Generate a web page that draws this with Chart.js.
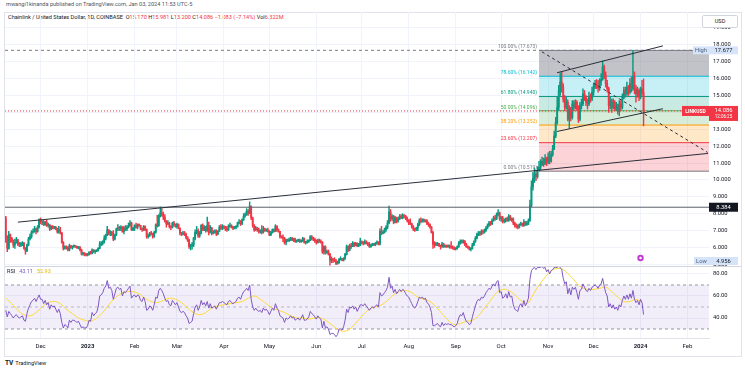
<!DOCTYPE html>
<html>
<head>
<meta charset="utf-8">
<script src="https://cdn.jsdelivr.net/npm/chart.js@4.4.1/dist/chart.umd.min.js"></script>
<style>
  html, body { margin: 0; padding: 0; background: #fff; width: 745px; height: 372px; overflow: hidden; font-family: Roboto, "Liberation Sans", sans-serif; }
  #frame { position: absolute; left: 4px; top: 12px; width: 736px; height: 343px; border: 1px solid #e0e3eb; }
  #wrap { position: absolute; left: 0; top: 0; width: 745px; height: 356px; }
  .hdr { position: absolute; white-space: nowrap; font-size: 5.6px; color: #131722; }
  .r { color: #f23645; }
  #usd { position: absolute; left: 702px; top: 15px; width: 34px; height: 11px; border: 1px solid #d1d4dc; border-radius: 2px; background: #fff; font-size: 5.6px; line-height: 11px; text-align: center; color: #131722; }
  #logo { position: absolute; left: 5px; top: 359px; font-size: 5.6px; color: #131722; }
  #logo b { font-size: 6.5px; margin-right: 2px; }
</style>
</head>
<body>
<div id="frame"></div>
<div class="hdr" style="left:6px;top:1px;color:#50535e">mwangi1kinanda published on TradingView.com, Jan 03, 2024 11:53 UTC-5</div>
<div class="hdr" style="left:8px;top:14px">Chainlink / United States Dollar, 1D, COINBASE&nbsp; O<span class="r">15.170</span> H<span class="r">15.981</span> L<span class="r">13.200</span> C<span class="r">14.086</span> <span class="r">&minus;1.083 (&minus;7.14%)</span> Vol<span class="r">6.322M</span></div>
<div id="wrap"><canvas id="c" width="745" height="356"></canvas></div>
<div id="usd">USD</div>
<div id="logo"><b>TV</b>TradingView</div>
<script>
// days are counted from 2022-12-01
const monthDays = [0, 31, 62, 90, 121, 151, 182, 212, 243, 274, 304, 335, 365, 396, 427];
const monthLabels = ['Dec', '2023', 'Feb', 'Mar', 'Apr', 'May', 'Jun', 'Jul', 'Aug', 'Sep', 'Oct', 'Nov', 'Dec', '2024', 'Feb'];
const firstDay = -23; // 2022-11-08
const firstOpen = 7.75;

const closes = [
  6.55,5.95,6.75,6.55,6.40,6.15,6.30,6.45,6.20,6.15,6.18,6.25,5.95,5.80,6.15,6.50,6.65,6.90,6.95,7.10,6.95,7.20,7.60,
  7.50,7.55,7.35,7.50,7.30,7.35,7.10,7.25,7.15,7.20,7.10,6.95,7.05,6.85,6.30,5.95,6.05,6.00,5.85,6.10,6.00,6.05,6.08,6.05,5.98,6.02,5.85,5.62,5.65,5.60,5.55,
  5.60,5.70,5.65,5.85,5.75,5.80,5.82,5.95,6.20,6.25,6.35,6.55,6.75,7.05,6.85,6.90,6.80,6.50,6.75,7.10,7.15,7.10,7.20,6.95,7.15,7.10,7.20,7.30,7.45,7.05,7.15,
  7.30,7.20,7.35,7.30,7.10,7.05,7.25,7.05,6.65,6.70,6.85,6.80,6.65,6.90,7.35,7.30,7.85,8.05,7.95,7.80,7.55,7.40,7.45,7.25,7.20,7.45,7.35,7.25,
  7.35,7.15,6.85,6.80,6.85,6.80,6.60,6.45,6.05,6.10,6.15,6.55,6.90,7.00,6.70,6.85,7.30,7.05,7.20,7.00,7.30,6.90,7.15,6.85,6.90,7.00,6.80,6.95,7.20,7.15,7.25,
  7.20,7.10,7.05,7.25,7.30,7.20,7.15,7.20,7.25,7.45,7.50,7.40,7.65,7.85,7.95,8.15,8.05,8.45,7.75,7.30,7.05,7.15,7.05,6.95,7.00,6.90,7.10,7.00,7.05,6.95,
  6.75,6.90,7.05,6.95,7.25,7.05,6.95,6.65,6.60,6.55,6.30,6.45,6.40,6.45,6.55,6.45,6.50,6.35,6.40,6.45,6.35,6.40,6.55,6.30,6.30,6.35,6.40,6.65,6.55,6.50,6.40,
  6.30,6.45,6.35,6.30,5.75,6.05,5.70,5.75,5.60,5.25,5.30,5.25,5.20,5.05,5.10,5.30,5.30,5.25,5.35,5.60,6.05,5.85,6.10,6.05,6.25,6.15,6.25,6.10,6.20,6.35,
  6.30,6.25,6.35,6.25,6.15,6.05,6.15,6.20,6.15,6.25,6.30,6.20,6.95,6.85,6.90,7.05,7.20,7.45,8.10,7.70,7.85,7.50,7.75,7.55,7.70,7.85,7.75,7.90,7.85,7.70,7.60,
  7.55,7.40,7.25,7.10,7.05,7.15,7.35,7.60,7.55,7.65,7.55,7.60,7.40,7.35,7.20,6.90,6.20,6.15,6.20,6.25,6.10,6.05,6.20,6.05,6.10,6.05,6.10,6.05,6.00,5.95,5.90,
  5.95,6.05,6.25,6.35,6.30,6.40,6.20,6.05,6.00,5.90,5.95,6.15,6.35,6.55,6.75,6.85,6.80,6.95,6.90,7.00,7.15,7.30,7.45,7.40,7.60,7.75,7.70,7.95,8.05,7.70,
  7.75,7.55,7.60,7.70,7.60,7.85,7.65,7.70,7.45,7.30,7.25,7.20,7.35,7.40,7.30,7.50,7.35,7.45,7.60,8.50,9.60,10.10,10.35,10.20,10.55,10.75,10.90,11.10,10.95,11.25,11.05,
  11.35,11.10,11.50,11.85,12.60,13.40,14.30,15.30,15.80,15.50,14.80,14.30,14.60,13.60,14.20,13.70,14.50,14.30,14.60,14.20,13.60,14.40,14.50,15.10,14.90,14.60,14.50,14.95,14.80,15.20,
  15.50,15.70,15.60,15.45,15.80,15.95,16.70,16.20,15.70,15.40,14.40,14.70,14.30,14.60,14.20,14.40,14.05,14.50,14.30,14.90,15.30,15.10,15.50,15.20,15.70,15.40,16.10,15.40,15.10,15.30,14.90,
  15.40,15.17,14.086
];
const highs = [
  7.85,6.70,6.95,6.80,6.60,6.45,6.50,6.60,6.50,6.30,6.30,6.35,6.30,6.00,6.20,6.60,6.80,7.00,7.10,7.25,7.15,7.30,7.70,
  7.75,7.60,7.60,7.55,7.65,7.45,7.35,7.30,7.30,7.25,7.25,7.15,7.25,7.20,6.90,6.35,6.10,6.10,6.05,6.20,6.12,6.10,6.15,6.10,6.08,6.06,6.05,5.90,5.72,5.70,5.65,
  5.65,5.75,5.78,5.92,5.88,5.85,5.86,6.00,6.35,6.35,6.40,6.70,6.80,7.25,7.05,7.00,6.95,7.00,6.80,7.15,7.35,7.25,7.30,7.25,7.25,7.30,7.30,7.45,7.60,7.50,7.20,
  7.35,7.45,7.40,7.40,7.32,7.15,7.30,7.28,7.10,6.80,6.90,6.95,6.85,6.95,7.40,7.90,7.95,8.40,8.30,8.10,7.95,7.60,7.60,7.50,7.30,7.50,7.55,7.40,
  7.45,7.40,7.15,6.90,6.95,6.95,6.85,6.65,6.50,6.20,6.30,6.60,7.05,7.25,7.10,6.95,7.35,7.40,7.30,7.25,7.80,7.50,7.30,7.20,7.00,7.05,7.05,7.00,7.30,7.35,7.35,
  7.30,7.25,7.25,7.35,7.45,7.35,7.25,7.25,7.30,7.50,7.65,7.60,7.70,8.00,8.05,8.30,8.25,8.70,8.45,7.80,7.35,7.25,7.20,7.15,7.05,7.30,7.25,7.15,7.10,7.15,
  7.00,6.95,7.10,7.10,7.35,7.30,7.10,6.95,6.70,6.75,6.60,6.50,6.50,6.55,6.60,6.60,6.55,6.55,6.45,6.50,6.50,6.45,6.60,6.55,6.35,6.45,6.45,6.70,6.70,6.60,6.55,
  6.45,6.50,6.50,6.45,6.35,6.10,6.10,5.85,5.85,5.65,5.45,5.35,5.40,5.30,5.20,5.35,5.45,5.35,5.40,5.65,6.15,6.10,6.20,6.25,6.35,6.30,6.30,6.28,6.25,6.55,
  6.40,6.35,6.45,6.40,6.30,6.30,6.20,6.25,6.25,6.30,6.40,6.35,7.10,7.25,7.00,7.15,7.30,7.60,8.45,8.25,7.95,7.90,7.85,7.80,7.80,7.95,7.95,8.00,7.95,7.90,7.80,
  7.65,7.70,7.45,7.30,7.15,7.20,7.45,7.70,7.75,7.70,7.70,7.65,7.65,7.50,7.40,7.25,6.95,6.35,6.30,6.30,6.25,6.15,6.30,6.25,6.15,6.15,6.15,6.15,6.35,6.10,6.05,
  6.00,6.10,6.35,6.45,6.45,6.45,6.40,6.25,6.10,6.05,6.00,6.25,6.40,6.65,6.85,6.95,6.95,7.05,7.05,7.10,7.25,7.40,7.55,7.55,7.70,7.85,7.90,8.05,8.25,8.10,
  7.85,7.85,7.70,7.75,7.80,7.95,7.90,7.75,7.75,7.50,7.40,7.35,7.40,7.50,7.45,7.65,7.55,7.55,7.70,8.80,9.95,10.45,10.70,10.55,10.80,11.10,11.20,11.35,11.30,11.50,11.35,
  11.60,11.70,11.70,12.05,12.90,13.70,14.90,15.60,16.35,16.40,15.70,15.00,14.90,14.75,14.40,14.30,14.70,14.70,14.75,14.70,14.40,14.60,14.80,15.40,15.30,15.00,14.80,15.20,15.10,15.50,
  15.70,15.90,15.95,15.90,16.00,16.30,17.05,16.80,16.40,15.90,15.50,14.90,14.80,14.80,14.70,14.60,14.50,14.70,14.70,15.10,15.50,15.50,15.80,15.60,16.00,16.10,17.677,16.40,15.60,15.50,15.40,
  15.50,15.90,15.981
];
const lows = [
  6.30,5.75,5.90,6.30,6.30,6.00,5.95,6.25,6.10,6.05,6.05,6.10,5.90,5.60,5.75,6.10,6.45,6.55,6.85,6.90,6.80,6.90,7.15,
  7.40,7.35,7.30,7.30,7.25,7.20,7.00,7.05,7.10,7.10,7.05,6.85,6.85,6.80,6.25,5.85,5.90,5.90,5.80,5.80,5.95,5.90,6.00,6.00,5.95,5.92,5.80,5.55,5.55,5.50,5.50,
  5.50,5.55,5.60,5.62,5.70,5.65,5.75,5.78,5.92,6.10,6.15,6.25,6.45,6.70,6.75,6.70,6.70,6.40,6.45,6.70,7.00,7.00,7.00,6.90,6.80,7.00,7.00,7.15,7.25,7.00,7.00,
  7.00,7.15,7.10,7.25,7.05,6.95,7.00,7.00,6.55,6.55,6.65,6.75,6.55,6.60,6.85,7.20,7.25,7.80,7.85,7.65,7.50,7.20,7.35,7.15,7.05,7.15,7.25,7.20,
  7.15,7.10,6.75,6.70,6.75,6.70,6.50,6.35,5.95,5.85,5.90,6.05,6.45,6.80,6.60,6.60,6.80,7.00,7.00,6.90,6.95,6.75,6.85,6.75,6.80,6.85,6.70,6.75,6.95,7.05,7.05,
  7.10,7.00,6.95,7.00,7.20,7.15,7.05,7.10,7.10,7.20,7.40,7.30,7.35,7.60,7.80,7.90,7.90,8.00,7.65,7.20,6.95,7.00,6.95,6.85,6.85,6.80,6.85,6.95,6.95,6.90,
  6.70,6.70,6.85,6.90,6.95,6.95,6.90,6.55,6.55,6.35,6.20,6.15,6.35,6.35,6.40,6.40,6.35,6.30,6.30,6.35,6.30,6.30,6.35,6.25,6.20,6.25,6.30,6.40,6.45,6.40,6.30,
  6.20,6.25,6.30,6.25,5.65,5.60,5.60,5.65,5.55,4.956,5.10,5.10,5.15,4.98,5.00,5.05,5.25,5.20,5.20,5.30,5.55,5.75,5.80,5.95,6.05,6.05,6.10,6.05,6.05,6.10,
  6.20,6.15,6.20,6.20,6.10,6.00,6.00,6.10,6.10,6.10,6.20,6.15,6.15,6.75,6.80,6.85,6.95,7.10,7.40,7.55,7.60,7.40,7.45,7.45,7.50,7.65,7.70,7.70,7.75,7.65,7.50,
  7.35,7.35,7.15,7.00,6.95,7.00,7.00,7.30,7.45,7.50,7.50,7.50,7.35,7.25,7.15,6.85,5.95,6.00,6.10,6.10,6.05,5.90,6.00,6.00,6.00,6.00,6.00,5.95,5.95,5.90,5.85,
  5.85,5.90,6.00,6.20,6.25,6.25,6.10,6.00,5.95,5.85,5.80,5.90,6.10,6.30,6.50,6.70,6.70,6.75,6.80,6.85,6.95,7.10,7.25,7.30,7.35,7.55,7.60,7.65,7.85,7.60,
  7.55,7.45,7.45,7.50,7.55,7.55,7.60,7.55,7.35,7.20,7.15,7.10,7.15,7.30,7.25,7.25,7.30,7.30,7.35,7.55,8.40,9.40,9.85,9.95,10.10,10.52,10.60,10.85,10.80,10.90,10.85,
  10.95,10.95,11.05,11.40,11.80,12.50,13.30,14.10,15.00,15.20,14.60,14.10,14.20,13.50,13.05,13.50,13.60,14.10,14.20,14.10,13.40,13.50,14.20,14.40,14.70,14.40,14.20,14.40,14.60,14.70,
  15.00,15.40,15.40,15.20,15.30,15.60,15.90,16.00,15.50,15.20,14.00,14.20,14.00,14.20,14.10,14.10,13.90,13.80,14.10,14.20,14.80,14.90,15.00,15.00,15.10,15.20,15.30,15.10,14.60,14.90,14.70,
  14.80,15.00,13.200
];
const rsi = [
  47,41,46,44,42,40,42,43,41,40,41,42,38,37,44,49,52,55,56,58,55,58,61,
  57,57,53,56,52,54,48,52,50,51,48,45,48,44,36,31,34,33,31,38,36,38,38,37,36,37,34,31,32,31,31,
  33,38,37,45,42,44,45,50,60,61,63,67,69,74,67,68,65,57,62,67,68,66,67,60,64,63,65,67,69,58,60,
  61,59,61,60,56,55,59,55,47,48,51,50,47,52,59,58,65,67,65,62,58,55,56,52,51,56,54,52,
  54,50,46,45,46,45,42,40,35,36,37,44,50,52,47,50,56,52,54,51,55,49,53,49,50,51,48,51,54,54,55,
  54,53,52,55,56,54,53,54,55,58,59,57,61,64,65,67,65,70,57,50,47,49,47,46,47,45,49,47,48,46,
  43,46,49,47,53,49,47,42,41,40,36,40,39,40,42,40,41,38,39,40,38,40,43,38,38,39,41,46,44,43,41,
  39,42,40,39,31,37,31,32,30,25,26,26,25,23,25,30,30,29,32,38,48,45,50,49,51,48,50,46,49,52,
  52,51,53,51,49,47,49,50,49,51,52,50,63,60,61,63,65,68,77,67,69,63,66,62,64,66,64,66,65,62,60,
  59,56,53,50,49,51,55,59,58,59,57,58,54,53,50,45,33,33,34,35,33,32,36,33,35,34,35,34,34,33,32,
  33,35,40,43,42,45,40,37,36,34,35,41,46,51,55,57,56,59,58,60,63,65,67,66,69,71,69,73,74,63,
  64,58,59,62,58,64,59,60,52,48,47,46,51,53,50,56,51,54,58,75,83,85,86,84,86,86,86,87,85,86,82,
  84,80,83,84,86,86,86,87,86,84,76,71,73,62,67,61,68,66,68,63,57,65,66,71,68,65,64,67,65,68,
  69,70,69,67,70,71,76,69,63,60,50,53,49,52,48,50,47,52,50,56,60,57,61,57,62,58,65,57,54,56,52,
  57,54,43.11
];
const maStep = 4; // one smoothed RSI reading every 4 days from firstDay
const rsiMa = [
  58,53,47,43,42,45,50,54,55,53, 48,44,40,38,37,40,45,52,58,62,
  64,64,62,58,55,54,56,58,57,54, 49,45,43,45,49,51,52,53,54,55,
  58,60,57,53,49,47,45,42,40,40, 39,40,40,37,33,29,28,31,37,43,
  48,50,52,56,61,64,65,63,59,57, 55,50,44,38,34,35,37,38,42,49,
  56,63,66,65,61,56,53,61,70,77, 83,85,84,79,73,68,66,66,67,68,
  64,59,55,55,57,54
];
const rsiLast = 43.11, rsiMaLast = 52.93;

const fibRatios = [0, 0.236, 0.382, 0.5, 0.618, 0.786, 1];
const fibPrices = [10.519, 12.207, 13.252, 14.096, 14.940, 16.142, 17.673];
const fibStartDay = 329;
const supportLevel = 8.384;
const rsiBands = [70, 50, 30];

// drawn lines: [day, price] pairs
const trendLong = [[-15, 7.50], [440.5, 11.57]];
const channelTop = [[340.9, 16.35], [410.8, 17.94]];
const channelBottom = [[340.9, 12.87], [410.8, 14.22]];
const dashedDown = [[330.9, 17.59], [440.3, 11.63]];

const FONT = 'Roboto, "Liberation Sans", sans-serif';
const UP = '#089981', DOWN = '#f23645';
const xMin = -23.5, xMax = 441.2;
const fibColors = ['#787b86', '#f23645', '#ff9800', '#4caf50', '#089981', '#00bcd4', '#787b86'];
const fibFills = [null, 'rgba(242,54,69,0.22)', 'rgba(255,152,0,0.22)', 'rgba(76,175,80,0.22)', 'rgba(8,153,129,0.22)', 'rgba(0,188,212,0.22)', 'rgba(120,123,134,0.45)'];

const days = closes.map((_, i) => firstDay + i);
const opens = closes.map((c, i) => (i === 0 ? firstOpen : closes[i - 1]));
const colors = closes.map((c, i) => (c >= opens[i] ? UP : DOWN));
const lastClose = closes[closes.length - 1];
const hiAll = Math.max(...highs), loAll = Math.min(...lows);

const seg = (pts, color, dash, order) => ({
  type: 'line', yAxisID: 'y', order: order ?? 0,
  data: pts.map(p => ({ x: p[0], y: p[1] })),
  borderColor: color, borderWidth: 1, borderDash: dash || [], pointRadius: 0, fill: false
});

const fibSets = fibPrices.map((p, i) => ({
  type: 'line', yAxisID: 'y', order: 20,
  data: [{ x: fibStartDay, y: p }, { x: xMax, y: p }],
  borderColor: fibColors[i], borderWidth: 1, pointRadius: 0,
  fill: i === 0 ? false : '-1', backgroundColor: fibFills[i]
}));

const overlay = {
  id: 'overlay',
  afterDraw(chart) {
    const { ctx, chartArea: a, scales: { x, y } } = chart;
    ctx.save();
    // pane separator
    ctx.strokeStyle = '#d1d4dc';
    ctx.lineWidth = 1;
    ctx.beginPath();
    ctx.moveTo(a.left, Math.round(y.bottom) + 0.5);
    ctx.lineTo(chart.width - 4, Math.round(y.bottom) + 0.5);
    ctx.stroke();

    // fib labels
    ctx.font = '5px ' + FONT;
    ctx.textAlign = 'right';
    ctx.textBaseline = 'bottom';
    const fx = x.getPixelForValue(fibStartDay) - 2;
    fibPrices.forEach((p, i) => {
      ctx.fillStyle = fibColors[i];
      ctx.fillText((fibRatios[i] * 100).toFixed(2) + '% (' + p.toFixed(3) + ')', fx, y.getPixelForValue(p) - 1);
    });

    const box = (x0, yc, w, h, bg, txt, col, font) => {
      ctx.fillStyle = bg;
      ctx.fillRect(x0, yc - h / 2, w, h);
      ctx.fillStyle = col;
      ctx.font = font || ('5.8px ' + FONT);
      ctx.textAlign = 'center';
      ctx.textBaseline = 'middle';
      ctx.fillText(txt, x0 + w / 2, yc + 0.3);
    };
    const R = a.right;
    // high / low markers
    const yh = y.getPixelForValue(hiAll);
    box(R - 16, yh, 16, 8, '#d6e4fa', 'High', '#50607f');
    box(R, yh, 29, 8, '#d6e4fa', hiAll.toFixed(3), '#131722');
    const yl = Math.min(y.getPixelForValue(loAll), y.bottom - 5);
    box(R - 15, yl, 15, 8, '#d6e4fa', 'Low', '#50607f');
    box(R, yl, 29, 8, '#d6e4fa', loAll.toFixed(3), '#131722');
    // support level label
    box(R, y.getPixelForValue(supportLevel), 29, 9, '#131722', supportLevel.toFixed(3), '#fff');
    // last price
    const yp = y.getPixelForValue(lastClose);
    box(R - 27, yp, 27, 10, '#f23645', 'LINKUSD', '#fff', 'bold 5px ' + FONT);
    ctx.fillStyle = '#f23645';
    ctx.fillRect(R, yp - 5, 29, 15);
    ctx.fillStyle = '#fff';
    ctx.textAlign = 'center';
    ctx.textBaseline = 'middle';
    ctx.font = '5.8px ' + FONT;
    ctx.fillText(lastClose.toFixed(3), R + 14.5, yp);
    ctx.font = '4.5px ' + FONT;
    ctx.fillText('12:06:25', R + 14.5, yp + 6);

    // event marker
    const ex = x.getPixelForValue(396), ey = y.bottom - 8;
    ctx.fillStyle = '#c23ad6';
    ctx.beginPath();
    ctx.arc(ex, ey, 3.2, 0, Math.PI * 2);
    ctx.fill();
    ctx.fillStyle = '#fff';
    ctx.beginPath();
    ctx.arc(ex, ey, 1.2, 0, Math.PI * 2);
    ctx.fill();

    // RSI legend
    ctx.textAlign = 'left';
    ctx.textBaseline = 'middle';
    ctx.font = '5.5px ' + FONT;
    let tx = a.left + 2;
    const ty = y.bottom + 6;
    [['RSI', '#131722'], [rsiLast.toFixed(2), '#7e57c2'], [rsiMaLast.toFixed(2), '#e0b800']].forEach(([t, c]) => {
      ctx.fillStyle = c;
      ctx.fillText(t, tx, ty);
      tx += ctx.measureText(t).width + 4;
    });
    ctx.restore();
  }
};

new Chart(document.getElementById('c'), {
  type: 'bar',
  data: {
    datasets: [
      ...fibSets,
      {
        type: 'bar', yAxisID: 'y', order: 6, grouped: false, barThickness: 0.8,
        data: days.map((d, i) => ({ x: d, y: [lows[i], highs[i]] })),
        backgroundColor: colors, borderWidth: 0
      },
      {
        type: 'bar', yAxisID: 'y', order: 5, grouped: false, barThickness: 1.2, minBarLength: 1,
        data: days.map((d, i) => ({ x: d, y: [opens[i], closes[i]] })),
        backgroundColor: colors, borderWidth: 0
      },
      seg([[xMin, hiAll], [xMax, hiAll]], '#787b86', [3, 3], 8),
      seg([[xMin, supportLevel], [xMax, supportLevel]], '#5d606b', [], 3),
      seg([[xMin, lastClose], [xMax, lastClose]], '#f23645', [1, 2], 3),
      seg(trendLong, '#2a2e39', [], 1),
      seg(channelTop, '#2a2e39', [], 1),
      seg(channelBottom, '#2a2e39', [], 1),
      seg(dashedDown, '#2a2e39', [3, 3], 1),
      {
        type: 'line', yAxisID: 'y2', order: 9,
        data: [{ x: xMin, y: rsiBands[0] }, { x: xMax, y: rsiBands[0] }],
        borderColor: '#9598a1', borderWidth: 1, borderDash: [3, 3], pointRadius: 0,
        fill: { value: rsiBands[2] }, backgroundColor: 'rgba(126,87,194,0.1)'
      },
      {
        type: 'line', yAxisID: 'y2', order: 9,
        data: [{ x: xMin, y: rsiBands[1] }, { x: xMax, y: rsiBands[1] }],
        borderColor: 'rgba(149,152,161,0.6)', borderWidth: 1, borderDash: [3, 3], pointRadius: 0, fill: false
      },
      {
        type: 'line', yAxisID: 'y2', order: 9,
        data: [{ x: xMin, y: rsiBands[2] }, { x: xMax, y: rsiBands[2] }],
        borderColor: '#9598a1', borderWidth: 1, borderDash: [3, 3], pointRadius: 0, fill: false
      },
      {
        type: 'line', yAxisID: 'y2', order: 2,
        data: rsiMa.map((v, i) => ({ x: firstDay + i * maStep, y: v })),
        borderColor: '#fdd835', borderWidth: 1, pointRadius: 0, tension: 0.4, fill: false
      },
      {
        type: 'line', yAxisID: 'y2', order: 1,
        data: days.map((d, i) => ({ x: d, y: rsi[i] })),
        borderColor: '#7e57c2', borderWidth: 1, pointRadius: 0, fill: false
      }
    ]
  },
  options: {
    responsive: false,
    animation: false,
    events: [],
    layout: { padding: { left: 5, top: 12, right: 0, bottom: 0 } },
    plugins: { legend: { display: false }, tooltip: { enabled: false } },
    scales: {
      x: {
        type: 'linear', min: xMin, max: xMax, offset: false,
        afterBuildTicks: s => { s.ticks = monthDays.map(v => ({ value: v })); },
        afterFit: s => { s.height = 18; },
        ticks: {
          autoSkip: false, maxRotation: 0, padding: 5, color: '#131722',
          callback: (v, i) => monthLabels[i],
          font: c => ({ family: FONT, size: 6, weight: /^\d{4}$/.test(monthLabels[c.index]) ? 'bold' : 'normal' })
        },
        grid: { color: '#f0f3fa', drawTicks: false, offset: false },
        border: { color: '#e0e3eb' }
      },
      y: {
        position: 'right', stack: 'pane', stackWeight: 254, min: 4.903, max: 19.947,
        afterFit: s => { s.width = 36; },
        ticks: { stepSize: 1, autoSkip: false, includeBounds: false, padding: 4, color: '#131722', font: { family: FONT, size: 5.8 }, callback: v => v.toFixed(3) },
        grid: { color: '#f0f3fa', drawTicks: false },
        border: { display: false }
      },
      y2: {
        position: 'right', stack: 'pane', stackWeight: 72, min: 21.82, max: 87.27,
        afterFit: s => { s.width = 36; },
        afterBuildTicks: s => { s.ticks = [40, 60, 80].map(v => ({ value: v })); },
        ticks: { autoSkip: false, padding: 4, color: '#131722', font: { family: FONT, size: 5.8 }, callback: v => v.toFixed(2) },
        grid: { color: '#f0f3fa', drawTicks: false },
        border: { display: false }
      }
    }
  },
  plugins: [overlay]
});
</script>
</body>
</html>
